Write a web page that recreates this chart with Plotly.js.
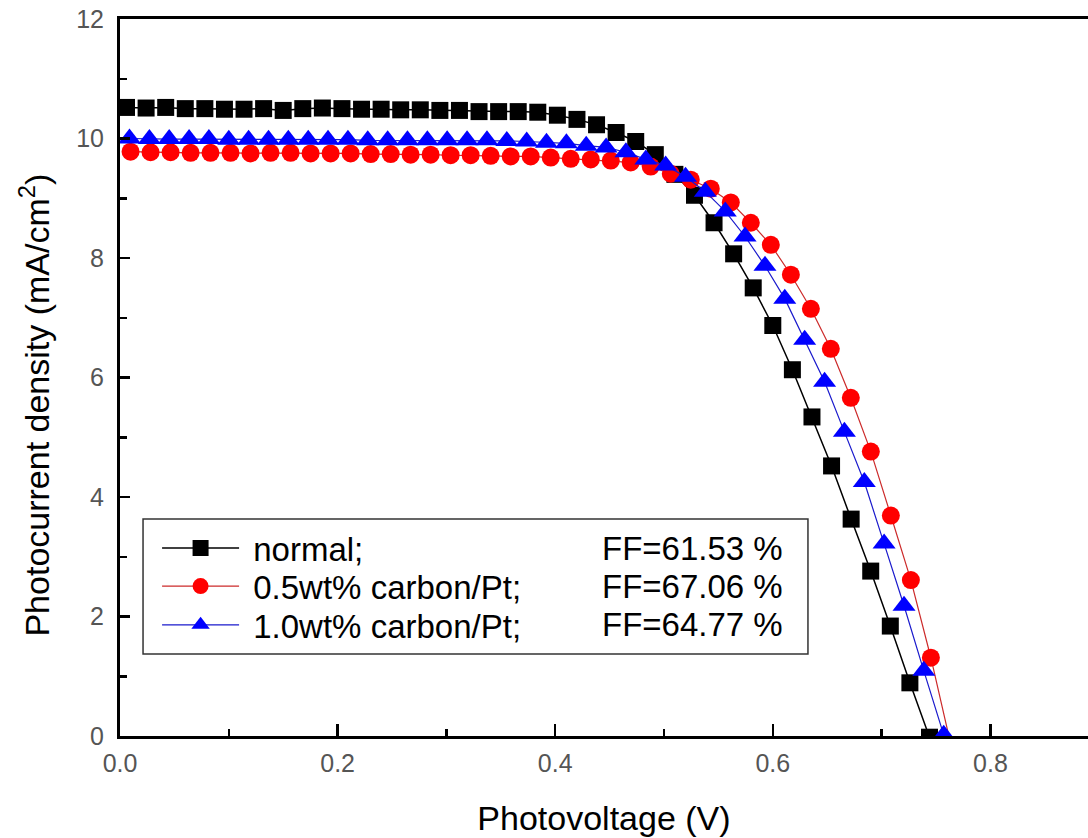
<!DOCTYPE html>
<html><head><meta charset="utf-8">
<script src="https://cdn.plot.ly/plotly-3.0.1.min.js"></script>
<style>html,body{margin:0;padding:0;background:#fff}</style>
</head><body><div id="chart" style="width:1088px;height:838px"></div>
<script>
// Photovoltage (V)
const xNormal = [0.006,0.024,0.042,0.060,0.078,0.096,0.114,0.132,0.150,0.168,0.186,0.204,0.222,0.240,0.258,0.276,0.294,0.312,0.330,0.348,0.366,0.384,0.402,0.420,0.438,0.456,0.474,0.492,0.510,0.528,0.546,0.564,0.582,0.600,0.618,0.636,0.654,0.672,0.690,0.708,0.726,0.744];
const yNormal = [10.52,10.51,10.52,10.50,10.50,10.49,10.49,10.50,10.47,10.50,10.51,10.50,10.49,10.49,10.48,10.48,10.47,10.47,10.45,10.45,10.45,10.44,10.39,10.32,10.23,10.10,9.95,9.73,9.40,9.05,8.59,8.07,7.50,6.87,6.13,5.34,4.52,3.63,2.76,1.84,0.89,-0.02];

const xC05 = [0.0097,0.0281,0.0465,0.0649,0.0832,0.1016,0.1200,0.1384,0.1568,0.1752,0.1936,0.2120,0.2304,0.2488,0.2671,0.2855,0.3039,0.3223,0.3407,0.3591,0.3775,0.3959,0.4143,0.4327,0.4511,0.4694,0.4878,0.5062,0.5246,0.5430,0.5614,0.5798,0.5982,0.6166,0.6350,0.6533,0.6717,0.6901,0.7085,0.7269,0.7453,0.7637];
const yC05 = [9.78,9.77,9.77,9.76,9.76,9.76,9.75,9.76,9.76,9.75,9.75,9.75,9.74,9.74,9.73,9.73,9.72,9.72,9.71,9.70,9.70,9.68,9.66,9.65,9.63,9.60,9.53,9.41,9.31,9.16,8.93,8.59,8.22,7.72,7.15,6.48,5.66,4.76,3.69,2.61,1.31,-0.15];

const xC10 = [0.0087,0.0270,0.0452,0.0635,0.0817,0.1000,0.1182,0.1365,0.1547,0.1730,0.1912,0.2095,0.2277,0.2460,0.2642,0.2825,0.3007,0.3190,0.3373,0.3555,0.3738,0.3920,0.4103,0.4285,0.4468,0.4650,0.4833,0.5015,0.5198,0.5380,0.5563,0.5745,0.5928,0.6110,0.6293,0.6476,0.6658,0.6841,0.7023,0.7206,0.7388,0.7571];
const yC10 = [10.00,9.99,9.99,9.99,9.99,9.98,9.98,9.98,9.98,9.98,9.98,9.98,9.97,9.97,9.97,9.97,9.97,9.97,9.97,9.96,9.95,9.93,9.92,9.88,9.85,9.77,9.65,9.55,9.36,9.11,8.78,8.36,7.87,7.32,6.63,5.93,5.09,4.25,3.22,2.18,1.09,0.02];

const seriesNames = ['normal;', '0.5wt% carbon/Pt;', '1.0wt% carbon/Pt;'];
const ffLabels = ['FF=61.53 %', 'FF=67.06 %', 'FF=64.77 %'];
const xTickVals = [0, 0.2, 0.4, 0.6, 0.8];
const xTickText = ['0.0', '0.2', '0.4', '0.6', '0.8'];
const yTickVals = [0, 2, 4, 6, 8, 10, 12];

const FONT = 'Liberation Sans, Arial, sans-serif';
const NB = '\u00a0';

const traces = [
  {x: xNormal, y: yNormal, name: NB + seriesNames[0], mode: 'lines+markers', legend: 'legend',
   line: {color: '#000000', width: 1.5},
   marker: {symbol: 'square', size: 17, color: '#000000'}},
  {x: xC05, y: yC05, name: NB + seriesNames[1], mode: 'lines+markers', legend: 'legend2',
   line: {color: '#cc2a2a', width: 1.2},
   marker: {symbol: 'circle', size: 18, color: '#ff0000'}},
  {x: xC10, y: yC10, name: NB + seriesNames[2], mode: 'lines+markers', legend: 'legend3',
   line: {color: '#1a1acc', width: 1.2},
   marker: {symbol: 'triangle-up', size: 20, color: '#0000ff'}}
];

const rowY = [0.262, 0.209, 0.155];
const annotations = ffLabels.map((t, i) => ({
  xref: 'paper', yref: 'paper', x: 0.687, y: rowY[i], xanchor: 'right', yanchor: 'middle',
  text: t, showarrow: false, font: {family: FONT, size: 33, color: '#000'}
}));
annotations.push({
  xref: 'paper', yref: 'paper', x: -0.088, y: 0.462, xanchor: 'center', yanchor: 'middle',
  textangle: -90, showarrow: false,
  text: 'Photocurrent density (mA/cm<sup>2</sup>)',
  font: {family: FONT, size: 34, color: '#000'}
});

function legendAt(yp) {
  return {
    x: 0.0383, y: yp, xanchor: 'left', yanchor: 'middle',
    bgcolor: 'rgba(0,0,0,0)', borderwidth: 0,
    font: {family: FONT, size: 33, color: '#000'},
    itemwidth: 77
  };
}

const layout = {
  width: 1088, height: 838,
  margin: {l: 120, r: 0, t: 19, b: 102},
  paper_bgcolor: '#fff', plot_bgcolor: '#fff',
  showlegend: true,
  legend: legendAt(rowY[0]),
  legend2: legendAt(rowY[1]),
  legend3: legendAt(rowY[2]),
  xaxis: {
    range: [0, 0.8897], showgrid: false, zeroline: false,
    showline: true, linecolor: '#000', linewidth: 3, mirror: true,
    ticks: 'inside', ticklen: 12, tickwidth: 2.5, tickcolor: '#000',
    tickvals: xTickVals, ticktext: xTickText, ticklabelstandoff: 3,
    minor: {ticks: 'inside', dtick: 0.1, tick0: 0, ticklen: 7, tickwidth: 2.5, tickcolor: '#000'},
    tickfont: {family: FONT, size: 25, color: '#555'},
    title: {text: 'Photovoltage (V)', font: {family: FONT, size: 34, color: '#000'}, standoff: 31}
  },
  yaxis: {
    range: [0, 12], showgrid: false, zeroline: false,
    showline: true, linecolor: '#000', linewidth: 3, mirror: false,
    ticks: 'inside', ticklen: 10, tickwidth: 2.5, tickcolor: '#000',
    tickvals: yTickVals, ticklabelstandoff: 8,
    minor: {ticks: 'inside', dtick: 1, tick0: 0, ticklen: 7, tickwidth: 2.5, tickcolor: '#000'},
    tickfont: {family: FONT, size: 25, color: '#555'}
  },
  shapes: [{
    type: 'rect', xref: 'paper', yref: 'paper',
    x0: 0.0238, x1: 0.7107, y0: 0.1144, y1: 0.3027,
    line: {color: '#333', width: 1.5}, fillcolor: 'rgba(0,0,0,0)', layer: 'below'
  }],
  annotations: annotations
};

Plotly.newPlot('chart', traces, layout, {displayModeBar: false, staticPlot: true});
</script>
</body></html>
